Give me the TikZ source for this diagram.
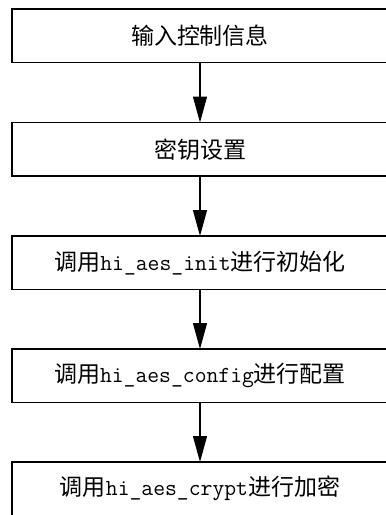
\documentclass[tikz,border=0pt]{standalone}
\usepackage{fontspec}
\newfontfamily\cjk{Noto Sans CJK SC}
\setmonofont{Latin Modern Mono}
\usetikzlibrary{arrows.meta}
\tikzset{
  stepbox/.style={draw=black, line width=1.6pt, minimum width=376pt, minimum height=53.5pt,
    inner sep=0pt, outer sep=0pt, anchor=north, font=\fontsize{23pt}{27pt}\selectfont\cjk},
  flow/.style={draw=black, line width=1.3pt, -{Triangle[length=26pt,width=14pt]}}
}
\begin{document}
\begin{tikzpicture}[x=1pt,y=1pt]
\useasboundingbox (0,0) rectangle (386,-515);
\clip (0,0) rectangle (386,-515);
\node[stepbox] (a) at (200,-9) {输入控制信息};
\node[stepbox] (b) at (200,-122.5) {密钥设置};
\node[stepbox] (c) at (200,-236) {调用{\ttfamily hi\_aes\_init}进行初始化};
\node[stepbox] (d) at (200,-349) {调用{\ttfamily hi\_aes\_config}进行配置};
\node[stepbox] (e) at (200,-462) {调用{\ttfamily hi\_aes\_crypt}进行加密};
\draw[flow] (a) -- (b);
\draw[flow] (b) -- (c);
\draw[flow] (c) -- (d);
\draw[flow] (d) -- (e);
\end{tikzpicture}
\end{document}
